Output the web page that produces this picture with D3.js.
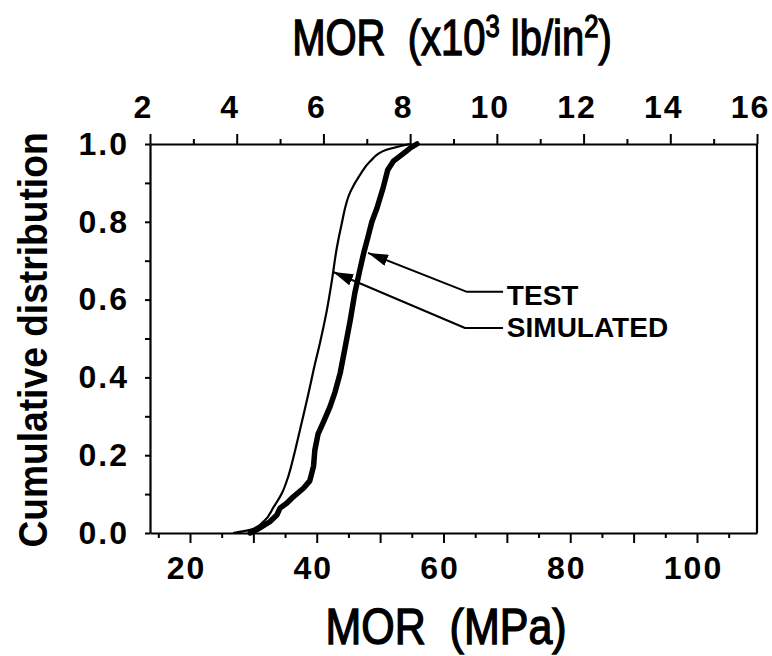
<!DOCTYPE html>
<html><head><meta charset="utf-8">
<script src="https://cdn.jsdelivr.net/npm/d3@7/dist/d3.min.js"></script>
<style>
body{margin:0;background:#fff}
svg{display:block}
text{font-family:"Liberation Sans",Arial,Helvetica,sans-serif;fill:#000}
</style>
</head><body>
<svg id="chart" width="772" height="656"></svg>
<script>
// ---- data (MPa vs cumulative distribution) ----
const simulatedMPa = [26.8, 29.5, 31.6, 33.1, 34.5, 35.5, 36.6, 37.6, 38.7, 39.5, 40.5, 41.6, 42.4, 43.2, 43.9, 45.3, 46.8, 48.4, 51.0, 54.7];
const simulatedF   = [0.000, 0.008, 0.029, 0.064, 0.102, 0.145, 0.213, 0.282, 0.359, 0.419, 0.488, 0.573, 0.650, 0.736, 0.792, 0.877, 0.920, 0.955, 0.985, 1.000];

const testMPa = [29.5, 30.5, 31.4, 32.6, 33.7, 34.2, 35.3, 36.3, 37.9, 38.9, 39.5, 39.7, 40.2, 41.0, 42.1, 42.9, 43.7, 44.5, 45.3, 46.0, 46.8, 47.4, 48.1, 48.7, 49.5, 50.5, 51.2, 52.1, 53.7, 54.7, 55.8];
const testF   = [0.000, 0.008, 0.017, 0.029, 0.046, 0.064, 0.077, 0.093, 0.115, 0.134, 0.172, 0.213, 0.254, 0.283, 0.325, 0.363, 0.411, 0.479, 0.548, 0.616, 0.676, 0.719, 0.762, 0.800, 0.835, 0.889, 0.933, 0.956, 0.976, 0.989, 1.000];

const bottomTicks  = [15,20,25,30,35,40,45,50,55,60,65,70,75,80,85,90,95,100,105];
const bottomLabels = [20,40,60,80,100];
const topTicks     = [2,3,4,5,6,7,8,9,10,11,12,13,14,15,16];
const topLabels    = [2,4,6,8,10,12,14,16];
const yTicks       = [0,0.1,0.2,0.3,0.4,0.5,0.6,0.7,0.8,0.9,1.0];
const yLabels      = [0,0.2,0.4,0.6,0.8,1.0];

// annotation anchor points (MPa, F)
const annTest = [[48.1,0.720],[63.7,0.620],[69.4,0.620]];
const annSim  = [[42.6,0.671],[63.4,0.527],[69.4,0.527]];
const annLabels = ["TEST","SIMULATED"];
const annLabelPos = [[70.0,0.586],[70.0,0.504]];

// ---- scales ----
const L=150, R=757, T=144, B=533;
const x = d3.scaleLinear().domain([13.69,109.47]).range([L,R]);
const xTop = d3.scaleLinear().domain([2,16]).range([L,R]);
const y = d3.scaleLinear().domain([0,1]).range([B,T]);

const svg = d3.select("#chart");
const isIn = (arr,v)=>arr.some(a=>Math.abs(a-v)<1e-9);

function styleAxis(g){
  g.selectAll("path.domain").attr("stroke","#000").attr("stroke-width",2.2);
  g.selectAll(".tick line").attr("stroke","#000").attr("stroke-width",2);
  g.selectAll(".tick text").attr("font-size",32).attr("font-weight","bold")
    .attr("letter-spacing","2px").attr("fill","#000")
    .style("font-family",'"Liberation Sans",Arial,sans-serif');
}

// bottom axis
const gB = svg.append("g").attr("transform",`translate(0,${B})`)
  .call(d3.axisBottom(x).tickValues(bottomTicks).tickSizeInner(5).tickSizeOuter(0).tickPadding(18)
    .tickFormat(d=>isIn(bottomLabels,d)?d:""));
gB.selectAll(".tick line").attr("y2",d=>d%10===0?10:5);
styleAxis(gB);
gB.selectAll(".tick text").attr("dx",-4);

// top axis
const gT = svg.append("g").attr("transform",`translate(0,${T})`)
  .call(d3.axisTop(xTop).tickValues(topTicks).tickSizeInner(5).tickSizeOuter(0).tickPadding(21)
    .tickFormat(d=>isIn(topLabels,d)?d:""));
gT.selectAll(".tick line").attr("y2",d=>d%2===0?-10:-5);
styleAxis(gT);
gT.selectAll(".tick text").attr("dx",-7);

// left axis
const gL = svg.append("g").attr("transform",`translate(${L},0)`)
  .call(d3.axisLeft(y).tickValues(yTicks).tickSizeInner(5).tickSizeOuter(0).tickPadding(16)
    .tickFormat(d=>isIn(yLabels,d)?d3.format(".1f")(d):""));
styleAxis(gL);

// right border
svg.append("line").attr("x1",R).attr("x2",R).attr("y1",T).attr("y2",B)
  .attr("stroke","#000").attr("stroke-width",2.2);

// curves
const line = d3.line().x(d=>x(d[0])).y(d=>y(d[1])).curve(d3.curveMonotoneY);
svg.append("path").datum(simulatedMPa.map((m,i)=>[m,simulatedF[i]]))
  .attr("d",line).attr("fill","none").attr("stroke","#000").attr("stroke-width",2.2)
  .attr("stroke-linejoin","round");
svg.append("path").datum(testMPa.map((m,i)=>[m,testF[i]]))
  .attr("d",d3.line().x(d=>x(d[0])).y(d=>y(d[1])))
  .attr("fill","none").attr("stroke","#000").attr("stroke-width",5.5)
  .attr("stroke-linejoin","round").attr("stroke-linecap","round");

// annotations
svg.append("defs").append("marker").attr("id","ah")
  .attr("viewBox","0 0 20 12").attr("refX",20).attr("refY",6)
  .attr("markerWidth",20).attr("markerHeight",12).attr("markerUnits","userSpaceOnUse")
  .attr("orient","auto-start-reverse")
  .append("path").attr("d","M0,0 L20,6 L0,12 Z").attr("fill","#000");

[annTest,annSim].forEach(pts=>{
  svg.append("path")
    .attr("d",d3.line().x(d=>x(d[0])).y(d=>y(d[1])).curve(d3.curveLinear)(pts))
    .attr("fill","none").attr("stroke","#000").attr("stroke-width",2)
    .attr("stroke-linejoin","round")
    .attr("marker-start","url(#ah)");
});
annLabels.forEach((t,i)=>{
  svg.append("text").attr("x",x(annLabelPos[i][0])).attr("y",y(annLabelPos[i][1]))
    .attr("font-size",28).attr("font-weight","bold").text(t);
});

// titles
const topTitle = svg.append("text").attr("transform","translate(452,55) scale(0.8,1)")
  .attr("text-anchor","middle").attr("font-size",50).style("white-space","pre")
  .attr("stroke","#000").attr("stroke-width",1.4);
topTitle.append("tspan").text("MOR  (x10");
topTitle.append("tspan").attr("font-size",32).attr("dy",-18).text("3");
topTitle.append("tspan").attr("dy",18).text(" lb/in");
topTitle.append("tspan").attr("font-size",32).attr("dy",-18).text("2");
topTitle.append("tspan").attr("dy",18).text(")");

svg.append("text").attr("transform","translate(446,644) scale(0.86,1)")
  .attr("text-anchor","middle").attr("font-size",50).style("white-space","pre")
  .attr("stroke","#000").attr("stroke-width",1.4).text("MOR  (MPa)");

svg.append("text").attr("transform","translate(47,340) rotate(-90) scale(0.93,1)")
  .attr("text-anchor","middle").attr("font-size",40).attr("font-weight","bold")
  .text("Cumulative distribution");
</script>
</body></html>
